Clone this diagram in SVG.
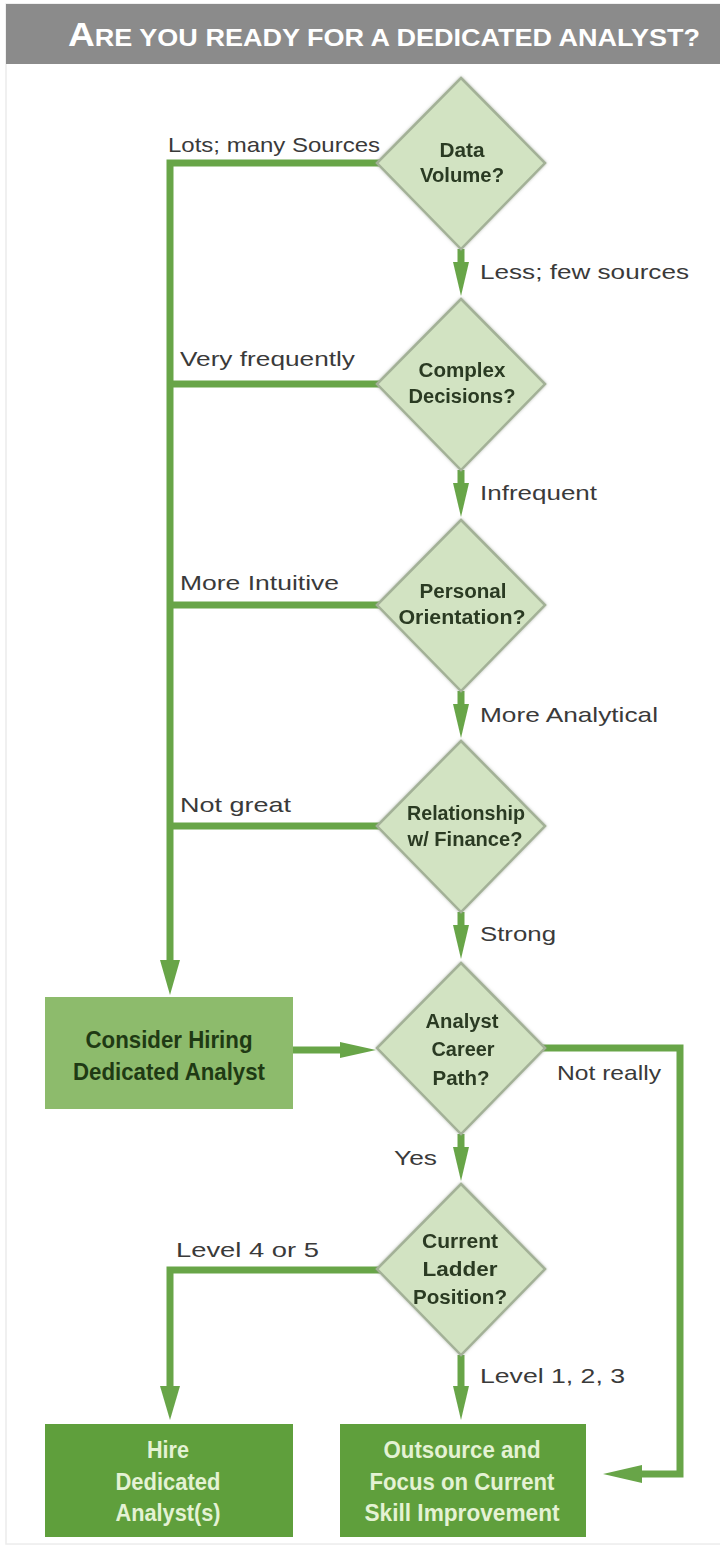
<svg xmlns="http://www.w3.org/2000/svg" width="720" height="1548" viewBox="0 0 720 1548">
  <style>
    .title { font-family: "Liberation Sans", Arial, sans-serif; font-weight: bold; fill: #ffffff; }
    .lbl { font-family: "Liberation Sans", Arial, sans-serif; font-size: 21px; fill: #3a3a3a; }
    .dtxt { font-family: "Liberation Sans", Arial, sans-serif; font-size: 20px; font-weight: bold; fill: #2c3a24; text-anchor: middle; }
    .btxt { font-family: "Liberation Sans", Arial, sans-serif; font-size: 24px; font-weight: bold; text-anchor: middle; }
    .dia { fill: #d2e3c2; stroke: #a3b197; stroke-width: 2.5; }
    .wire { fill: none; stroke: #68a548; stroke-width: 7; stroke-linejoin: miter; }
    .head { fill: #68a548; }
    .light { fill: #8dbb6c; }
    .dark { fill: #5f9f3c; }
  </style>
  <defs>
    <filter id="soft" x="-10%" y="-10%" width="120%" height="120%">
      <feGaussianBlur in="SourceAlpha" stdDeviation="1.5"/>
      <feOffset dx="0" dy="0" result="b"/>
      <feFlood flood-color="#7f8a78" flood-opacity="0.6"/>
      <feComposite in2="b" operator="in"/>
      <feMerge><feMergeNode/><feMergeNode in="SourceGraphic"/></feMerge>
    </filter>
  </defs>

  <!-- page -->
  <rect x="0" y="0" width="720" height="1548" fill="#ffffff"/>
  <rect x="6" y="4" width="716" height="1540" fill="none" stroke="#ececec" stroke-width="1.5"/>

  <!-- heading bar -->
  <g id="title">
    <rect x="6" y="4" width="714" height="60" fill="#8b8b8b"/>
    <text class="title" x="68" y="46" textLength="632" lengthAdjust="spacingAndGlyphs"><tspan font-size="33">A</tspan><tspan font-size="24">RE YOU READY FOR A DEDICATED ANALYST?</tspan></text>
  </g>

  <!-- connectors -->
  <g id="connectors">
    <!-- left trunk collecting the "hire" branches -->
    <polyline class="wire" points="380,163 170,163 170,965"/>
    <line class="wire" x1="170" y1="384" x2="380" y2="384"/>
    <line class="wire" x1="170" y1="605" x2="380" y2="605"/>
    <line class="wire" x1="170" y1="826" x2="380" y2="826"/>
    <polygon class="head" points="160,960 180,960 170,995"/>

    <!-- vertical steps between decisions -->
    <line class="wire" x1="461" y1="249" x2="461" y2="268"/>
    <polygon class="head" points="453,262 469,262 461,296"/>
    <line class="wire" x1="461" y1="470" x2="461" y2="489"/>
    <polygon class="head" points="453,483 469,483 461,517"/>
    <line class="wire" x1="461" y1="691" x2="461" y2="710"/>
    <polygon class="head" points="453,704 469,704 461,738"/>
    <line class="wire" x1="461" y1="912" x2="461" y2="931"/>
    <polygon class="head" points="453,925 469,925 461,959"/>
    <line class="wire" x1="461" y1="1134" x2="461" y2="1153"/>
    <polygon class="head" points="453,1147 469,1147 461,1181"/>

    <!-- consider box into career path -->
    <line class="wire" x1="293" y1="1050" x2="345" y2="1050"/>
    <polygon class="head" points="340,1042 340,1058 376,1050"/>

    <!-- not really: around to outsource -->
    <polyline class="wire" points="542,1048 680,1048 680,1474 640,1474"/>
    <polygon class="head" points="642,1465 642,1483 603,1474"/>

    <!-- level 4 or 5 -->
    <polyline class="wire" points="380,1270 170,1270 170,1390"/>
    <polygon class="head" points="160,1386 180,1386 170,1420"/>

    <!-- level 1, 2, 3 -->
    <line class="wire" x1="461" y1="1355" x2="461" y2="1390"/>
    <polygon class="head" points="453,1386 469,1386 461,1420"/>
  </g>

  <!-- branch labels -->
  <g id="labels">
    <text class="lbl" x="168" y="152" textLength="212" lengthAdjust="spacingAndGlyphs">Lots; many Sources</text>
    <text class="lbl" x="480" y="279" textLength="209" lengthAdjust="spacingAndGlyphs">Less; few sources</text>
    <text class="lbl" x="180" y="366" textLength="175" lengthAdjust="spacingAndGlyphs">Very frequently</text>
    <text class="lbl" x="480" y="500" textLength="117" lengthAdjust="spacingAndGlyphs">Infrequent</text>
    <text class="lbl" x="180" y="590" textLength="159" lengthAdjust="spacingAndGlyphs">More Intuitive</text>
    <text class="lbl" x="480" y="722" textLength="178" lengthAdjust="spacingAndGlyphs">More Analytical</text>
    <text class="lbl" x="180" y="812" textLength="111" lengthAdjust="spacingAndGlyphs">Not great</text>
    <text class="lbl" x="480" y="941" textLength="76" lengthAdjust="spacingAndGlyphs">Strong</text>
    <text class="lbl" x="557" y="1080" textLength="104" lengthAdjust="spacingAndGlyphs">Not really</text>
    <text class="lbl" x="394" y="1165" textLength="43" lengthAdjust="spacingAndGlyphs">Yes</text>
    <text class="lbl" x="176" y="1257" textLength="143" lengthAdjust="spacingAndGlyphs">Level 4 or 5</text>
    <text class="lbl" x="480" y="1383" textLength="145" lengthAdjust="spacingAndGlyphs">Level 1, 2, 3</text>
  </g>

  <!-- decisions -->
  <g id="data-volume" filter="url(#soft)">
    <polygon class="dia" points="461,78 545,163 461,249 377,163"/>
    <text class="dtxt" x="462" y="157" textLength="45" lengthAdjust="spacingAndGlyphs">Data</text>
    <text class="dtxt" x="462" y="182" textLength="84" lengthAdjust="spacingAndGlyphs">Volume?</text>
  </g>
  <g id="complex-decisions" filter="url(#soft)">
    <polygon class="dia" points="461,299 545,384 461,470 377,384"/>
    <text class="dtxt" x="462" y="377" textLength="87" lengthAdjust="spacingAndGlyphs">Complex</text>
    <text class="dtxt" x="462" y="403" textLength="107" lengthAdjust="spacingAndGlyphs">Decisions?</text>
  </g>
  <g id="personal-orientation" filter="url(#soft)">
    <polygon class="dia" points="461,520 545,605 461,691 377,605"/>
    <text class="dtxt" x="463" y="598" textLength="87" lengthAdjust="spacingAndGlyphs">Personal</text>
    <text class="dtxt" x="462" y="624" textLength="127" lengthAdjust="spacingAndGlyphs">Orientation?</text>
  </g>
  <g id="relationship-finance" filter="url(#soft)">
    <polygon class="dia" points="461,741 545,826 461,912 377,826"/>
    <text class="dtxt" x="466" y="820" textLength="118" lengthAdjust="spacingAndGlyphs">Relationship</text>
    <text class="dtxt" x="465" y="846" textLength="115" lengthAdjust="spacingAndGlyphs">w/ Finance?</text>
  </g>
  <g id="career-path" filter="url(#soft)">
    <polygon class="dia" points="461,963 545,1048 461,1134 377,1048"/>
    <text class="dtxt" x="462" y="1028" textLength="73" lengthAdjust="spacingAndGlyphs">Analyst</text>
    <text class="dtxt" x="463" y="1056" textLength="63" lengthAdjust="spacingAndGlyphs">Career</text>
    <text class="dtxt" x="461" y="1085" textLength="57" lengthAdjust="spacingAndGlyphs">Path?</text>
  </g>
  <g id="ladder-position" filter="url(#soft)">
    <polygon class="dia" points="461,1184 545,1269 461,1355 377,1269"/>
    <text class="dtxt" x="460" y="1248" textLength="76" lengthAdjust="spacingAndGlyphs">Current</text>
    <text class="dtxt" x="460" y="1276" textLength="75" lengthAdjust="spacingAndGlyphs">Ladder</text>
    <text class="dtxt" x="460" y="1304" textLength="94" lengthAdjust="spacingAndGlyphs">Position?</text>
  </g>

  <!-- outcomes -->
  <g id="consider-hiring">
    <rect class="light" x="45" y="997" width="248" height="112"/>
    <text class="btxt" x="169" y="1048" fill="#1f3a14" textLength="167" lengthAdjust="spacingAndGlyphs">Consider Hiring</text>
    <text class="btxt" x="169" y="1080" fill="#1f3a14" textLength="192" lengthAdjust="spacingAndGlyphs">Dedicated Analyst</text>
  </g>
  <g id="hire-analyst">
    <rect class="dark" x="45" y="1424" width="248" height="113"/>
    <text class="btxt" x="168" y="1458" fill="#e4f2d4" textLength="42" lengthAdjust="spacingAndGlyphs">Hire</text>
    <text class="btxt" x="168" y="1490" fill="#e4f2d4" textLength="105" lengthAdjust="spacingAndGlyphs">Dedicated</text>
    <text class="btxt" x="168" y="1521" fill="#e4f2d4" textLength="105" lengthAdjust="spacingAndGlyphs">Analyst(s)</text>
  </g>
  <g id="outsource">
    <rect class="dark" x="340" y="1424" width="246" height="113"/>
    <text class="btxt" x="462" y="1458" fill="#e4f2d4" textLength="157" lengthAdjust="spacingAndGlyphs">Outsource and</text>
    <text class="btxt" x="462" y="1490" fill="#e4f2d4" textLength="185" lengthAdjust="spacingAndGlyphs">Focus on Current</text>
    <text class="btxt" x="462" y="1521" fill="#e4f2d4" textLength="195" lengthAdjust="spacingAndGlyphs">Skill Improvement</text>
  </g>
</svg>
